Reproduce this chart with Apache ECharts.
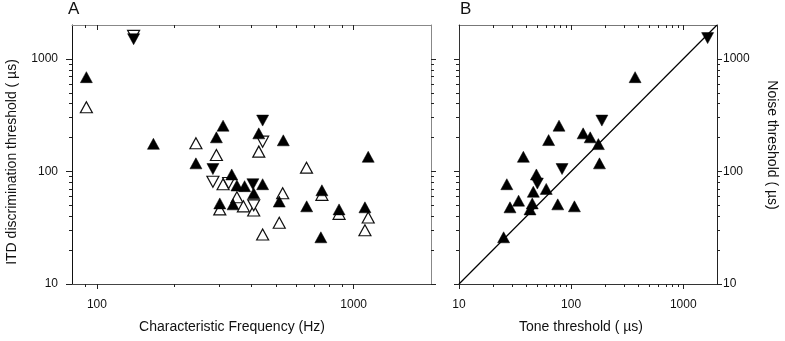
<!DOCTYPE html>
<html>
<head>
<meta charset="utf-8">
<script src="https://cdn.jsdelivr.net/npm/echarts@6/dist/echarts.min.js"></script>
<style>
html, body { margin: 0; background: #fff; }
#chart { width: 785px; height: 341px; }
</style>
</head>
<body>
<div id="chart"></div>
<script>
// panel A: characteristic frequency (Hz) vs ITD threshold (us)
const aFilledUp = [
  [91, 688], [166, 176], [310, 255], [427, 218], [292, 201], [532, 189], [1139, 135],
  [243, 118], [335, 94], [351, 75], [376, 74], [408, 64], [442, 77], [752, 68],
  [301, 52], [339, 51], [513, 54], [656, 49], [877, 46], [1106, 48], [745, 26]
];
const aFilledDown = [[139, 1496], [442, 283], [283, 105], [405, 77]];
const aOpenUp = [
  [91, 372], [243, 178], [292, 140], [427, 150], [655, 108], [310, 77], [529, 64],
  [752, 62], [351, 59], [301, 46], [372, 49], [408, 45], [877, 42], [1139, 39],
  [513, 35], [1106, 30], [442, 27.5]
];
const aOpenDown = [[139, 1601], [442, 184], [283, 81], [326, 79], [408, 50]];

// panel B: tone threshold vs noise threshold (us)
const bFilledUp = [
  [372, 688], [78, 255], [128, 218], [148, 201], [175, 175], [63, 190], [179, 118],
  [37.5, 135], [49, 94], [26.7, 77], [60, 70], [46, 66], [34, 55], [28.5, 48],
  [45, 52], [43, 46], [76, 51], [107, 49], [25, 26]
];
const bFilledDown = [[1650, 1530], [188, 283], [83, 105], [50, 78]];
const bEqualLine = [[10, 10], [2000, 2000]];

// tick values
const freqMinor = [90, 200, 300, 400, 500, 600, 700, 800, 900];
const freqMajor = [100, 1000];
const thrMinor = [20, 30, 40, 50, 60, 70, 80, 90, 200, 300, 400, 500, 600, 700, 800, 900];
const thrMajor = [10, 100, 1000];

const FONT = '"Liberation Sans", Arial, sans-serif';

const logAxis = (grid, position, min, max, ticks, len, inside, labels, color, margin) => ({
  type: 'log',
  logBase: 10,
  gridIndex: grid,
  position: position,
  min: min,
  max: max,
  axisLine: { show: color !== null, onZero: false, lineStyle: { color: color || '#000', width: 1 } },
  axisTick: { show: true, inside: inside, length: len, customValues: ticks, lineStyle: { color: '#222', width: 1 } },
  minorTick: { show: false },
  splitLine: { show: false },
  axisLabel: labels
    ? { show: true, customValues: labels, fontSize: 12, color: '#111', fontFamily: FONT, margin: margin, formatter: v => String(v) }
    : { show: false }
});

const xAxes = [
  // grid 0 (A)
  logAxis(0, 'bottom', 80, 2000, freqMinor, 3, false, freqMajor, '#444', 15),
  logAxis(0, 'bottom', 80, 2000, freqMajor, 5, false, null, null),
  logAxis(0, 'top', 80, 2000, freqMinor, 3, true, null, '#888'),
  logAxis(0, 'top', 80, 2000, freqMajor, 5, true, null, null),
  // grid 1 (B)
  logAxis(1, 'bottom', 10, 2000, thrMinor, 3, false, thrMajor, '#333', 15),
  logAxis(1, 'bottom', 10, 2000, thrMajor, 5, false, null, null),
  logAxis(1, 'top', 10, 2000, thrMinor, 3, true, null, '#777'),
  logAxis(1, 'top', 10, 2000, thrMajor, 5, true, null, null)
];
const yAxes = [
  logAxis(0, 'left', 10, 2000, thrMinor, 3, false, thrMajor, '#111', 14),
  logAxis(0, 'left', 10, 2000, thrMajor, 6, false, null, null),
  logAxis(0, 'right', 10, 2000, thrMinor, 3, false, null, '#888'),
  logAxis(0, 'right', 10, 2000, thrMajor, 5, false, null, null),
  logAxis(1, 'left', 10, 2000, thrMinor, 3, false, null, '#333'),
  logAxis(1, 'left', 10, 2000, thrMajor, 5, false, null, null),
  logAxis(1, 'right', 10, 2000, thrMinor, 3, false, thrMajor, '#222', 6),
  logAxis(1, 'right', 10, 2000, thrMajor, 5, false, null, null)
];

const tri = (name, data, xi, yi, filled, down) => ({
  name: name,
  type: 'scatter',
  xAxisIndex: xi,
  yAxisIndex: yi,
  data: data,
  symbol: 'triangle',
  symbolSize: [12, 11],
  symbolRotate: down ? 180 : 0,
  itemStyle: filled
    ? { color: '#000', borderColor: '#000', borderWidth: 0.5, opacity: 1 }
    : { color: '#fff', borderColor: '#111', borderWidth: 1.2, opacity: 1 },
  emphasis: { disabled: true }
});

const titleStyle = { fontSize: 14, fill: '#111', fontFamily: FONT };

const option = {
  animation: false,
  backgroundColor: '#fff',
  grid: [
    { left: 72, top: 25, width: 359, height: 259 },
    { left: 459, top: 25, width: 258, height: 259 }
  ],
  xAxis: xAxes,
  yAxis: yAxes,
  graphic: [
    { type: 'text', left: 68, top: 1, style: { text: 'A', fontSize: 17, fill: '#111', fontFamily: FONT } },
    { type: 'text', left: 460, top: 1, style: { text: 'B', fontSize: 17, fill: '#111', fontFamily: FONT } },
    { type: 'text', x: 232, y: 327, style: Object.assign({ text: 'Characteristic Frequency (Hz)', align: 'center', verticalAlign: 'middle' }, titleStyle) },
    { type: 'text', x: 581, y: 327, style: Object.assign({ text: 'Tone threshold ( µs)', align: 'center', verticalAlign: 'middle' }, titleStyle) },
    { type: 'text', x: 12, y: 162, rotation: Math.PI / 2, style: Object.assign({ text: 'ITD discrimination threshold ( µs)', align: 'center', verticalAlign: 'middle' }, titleStyle) },
    { type: 'text', x: 772, y: 145, rotation: -Math.PI / 2, style: Object.assign({ text: 'Noise threshold ( µs)', align: 'center', verticalAlign: 'middle' }, titleStyle) }
  ],
  series: [
    tri('A tone up', aOpenUp, 0, 0, false, false),
    tri('A tone down', aOpenDown, 0, 0, false, true),
    tri('A noise up', aFilledUp, 0, 0, true, false),
    tri('A noise down', aFilledDown, 0, 0, true, true),
    {
      name: 'equality',
      type: 'line',
      xAxisIndex: 4,
      yAxisIndex: 4,
      data: bEqualLine,
      showSymbol: false,
      lineStyle: { color: '#000', width: 1.2 },
      silent: true
    },
    tri('B up', bFilledUp, 4, 4, true, false),
    tri('B down', bFilledDown, 4, 4, true, true)
  ]
};

const chart = echarts.init(document.getElementById('chart'), null, { renderer: 'canvas' });
chart.setOption(option);
</script>
</body>
</html>
